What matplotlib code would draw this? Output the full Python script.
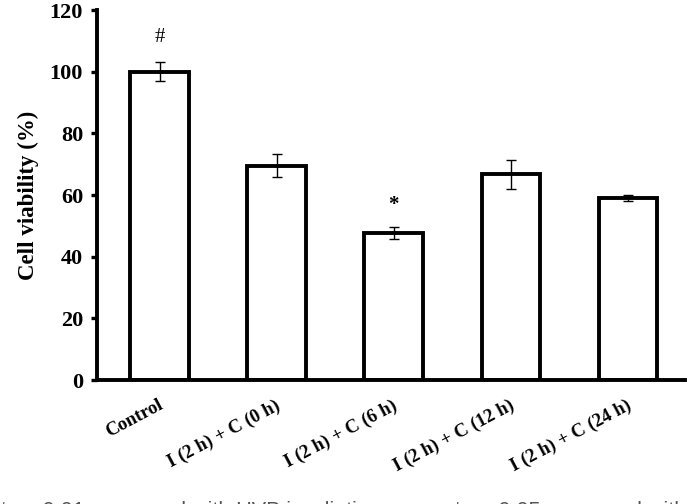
import matplotlib
matplotlib.use("Agg")
import matplotlib.pyplot as plt
import matplotlib.transforms as mtransforms

groups = ["Control", "I (2 h) + C (0 h)", "I (2 h) + C (6 h)",
          "I (2 h) + C (12 h)", "I (2 h) + C (24 h)"]
viability = [100.0, 69.5, 47.7, 66.8, 59.0]
errors = [3.0, 3.8, 1.9, 4.7, 1.0]
marks = ["#", "", "*", "", ""]
mark_y = [111, None, 56.8, None, None]

plt.rcParams['font.family'] = ['Liberation Serif', 'DejaVu Serif']

fig = plt.figure(figsize=(6.88, 5.04), dpi=100)
ax = fig.add_axes([0.141, 0.246, 0.855, 0.734])

x = range(len(groups))
ax.bar(x, viability, width=0.5, color='white', edgecolor='black', linewidth=2.8)
ax.errorbar(x, viability, yerr=errors, fmt='none', ecolor='black',
            elinewidth=1.0, capsize=3.5, capthick=1.0)

for i, m in enumerate(marks):
    if m:
        ax.text(i, mark_y[i], m, ha='center', va='center', fontsize=15,
                fontweight='bold' if m == '*' else 'normal')

ax.set_ylim(0, 120)
ax.set_xlim(-0.534, 4.49)
ax.set_yticks([0, 20, 40, 60, 80, 100, 120])
ax.tick_params(axis='y', direction='out', length=4, width=2.4, labelsize=16, pad=6)
for lab in ax.get_yticklabels():
    lab.set_fontweight('bold')
ax.set_xticks(list(x))
ax.set_xticklabels(groups, rotation=28, ha='right', va='top', rotation_mode='anchor',
                   fontsize=13.5, fontweight='bold')
ax.tick_params(axis='x', length=0, pad=12)
shift = mtransforms.ScaledTranslation(-2 / 100, 0, fig.dpi_scale_trans)
for lab in ax.get_xticklabels():
    lab.set_transform(lab.get_transform() + shift)
ax.set_ylabel("Cell viability (%)", fontsize=16.5, fontweight='bold', labelpad=8)

ax.spines['top'].set_visible(False)
ax.spines['right'].set_visible(False)
ax.spines['left'].set_linewidth(2.8)
ax.spines['bottom'].set_linewidth(2.8)

# caption sits mostly below the bottom edge, as in the source image
fig.text(-6 / 688, 1 - 517 / 504, "#p < 0.01 compared with UVB irradiation group; *p < 0.05 compared with",
         ha='left', va='baseline', fontsize=15.5, color='#555555', family=['Liberation Sans', 'DejaVu Sans'])

fig.savefig("out.png", dpi=100)
